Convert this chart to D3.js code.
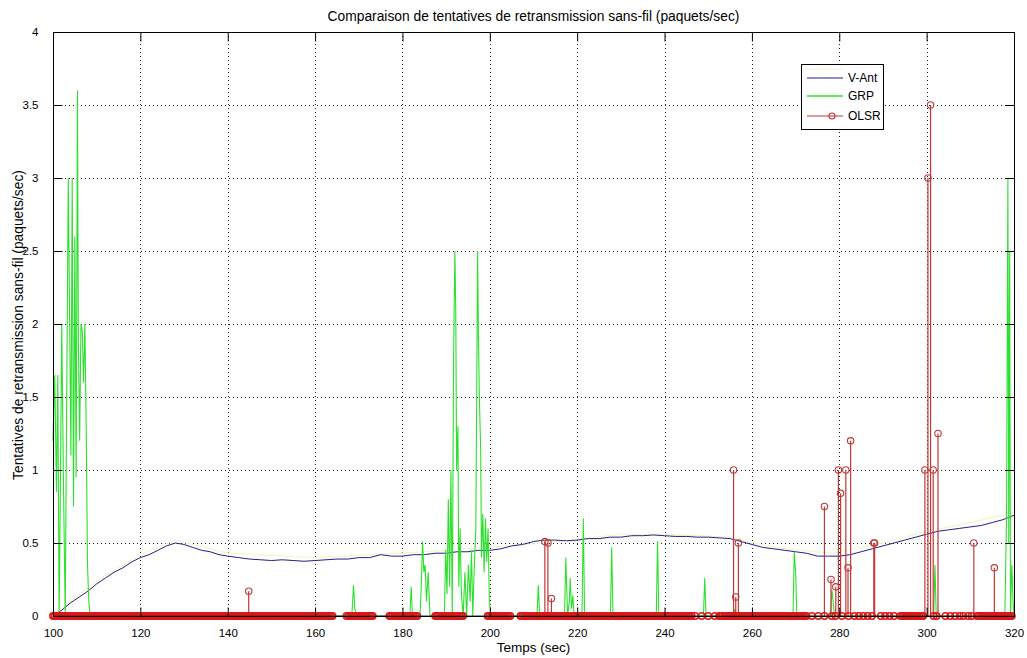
<!DOCTYPE html>
<html>
<head>
<meta charset="utf-8">
<script src="https://cdn.jsdelivr.net/npm/d3@7/dist/d3.min.js"></script>
<style>
  html, body { margin: 0; padding: 0; background: #fff; }
  svg { display: block; font-family: "Liberation Sans", Arial, Helvetica, sans-serif; }
</style>
</head>
<body>
<svg id="chart" width="1027" height="658"></svg>
<script>
// ---- Data ---------------------------------------------------------------
const xTicks = [100, 120, 140, 160, 180, 200, 220, 240, 260, 280, 300, 320];
const yTicks = [0, 0.5, 1, 1.5, 2, 2.5, 3, 3.5, 4];
const seriesNames = ["V-Ant", "GRP", "OLSR"];

// V-Ant: smoothed retransmission attempts
const vantTime = [100, 102, 104, 106, 108, 110, 112, 114, 116, 118, 120, 122, 124, 126, 128, 130, 132, 134, 136, 138, 140,
  142.5, 145, 147.5, 150, 152.5, 155, 157.5, 160, 162.5, 165, 167.5, 170, 172.5, 175, 177.5, 180, 182.5, 185, 187.5,
  190, 192.5, 195, 197.5, 200, 202.5, 205, 207.5, 210, 212.5, 215, 217.5, 220, 222.5, 225, 227.5, 230, 232.5, 235,
  237.5, 240, 242.5, 245, 247.5, 250, 252.5, 255, 257.5, 260, 262.5, 265, 267.5, 270, 272.5, 275, 277.5, 280, 282.5,
  285, 287.5, 290, 292.5, 295, 297.5, 300, 302.5, 305, 307.5, 310, 312.5, 315, 317.5, 320];
const vantValue = [0.00, 0.04, 0.09, 0.13, 0.17, 0.22, 0.26, 0.30, 0.33, 0.37, 0.40, 0.42, 0.45, 0.48, 0.50, 0.49, 0.47, 0.45, 0.44, 0.42, 0.41,
  0.40, 0.39, 0.385, 0.38, 0.385, 0.38, 0.375, 0.38, 0.385, 0.39, 0.39, 0.40, 0.40, 0.42, 0.41, 0.41, 0.42, 0.42, 0.43,
  0.43, 0.44, 0.44, 0.45, 0.45, 0.46, 0.48, 0.49, 0.51, 0.52, 0.52, 0.515, 0.52, 0.53, 0.53, 0.54, 0.54, 0.55, 0.55,
  0.555, 0.55, 0.545, 0.545, 0.54, 0.54, 0.535, 0.53, 0.51, 0.49, 0.47, 0.46, 0.45, 0.44, 0.43, 0.41, 0.41, 0.41, 0.42,
  0.44, 0.46, 0.48, 0.50, 0.52, 0.54, 0.56, 0.58, 0.59, 0.60, 0.61, 0.62, 0.64, 0.66, 0.69];

// faint companion trace drawn under V-Ant
const traceTime = [100, 110, 120, 128, 140, 160, 180, 200, 212, 230, 240, 255, 265, 278, 290, 300, 310, 320];
const traceValue = [0.01, 0.24, 0.42, 0.52, 0.43, 0.40, 0.43, 0.47, 0.50, 0.56, 0.56, 0.54, 0.47, 0.43, 0.50, 0.58, 0.64, 0.71];

// GRP: raw retransmission attempts
const grpTime = [100, 100.4, 100.8, 101.1, 101.4, 101.7, 102.0, 102.4, 102.8, 103.1, 103.5, 103.8, 104.1, 104.4, 104.7,
  105.0, 105.3, 105.6, 105.8, 106.1, 106.4, 106.7, 107.0, 107.3, 107.6, 107.9, 108.2, 108.5,
  168.4, 168.8, 169.1, 169.5,
  181.7, 182.0, 182.3,
  184.0, 184.3, 184.6, 184.9, 185.2, 185.5, 185.9, 186.3,
  189.6, 189.9, 190.2, 190.5, 190.8, 191.1, 191.4, 191.7, 192.0, 192.2, 192.4, 192.7, 192.9, 193.2, 193.5, 193.9,
  194.3, 194.7, 195.1, 195.5, 195.8, 196.1, 196.4, 196.8, 197.2, 197.4, 197.6, 197.9, 198.1, 198.4, 198.7, 199.0,
  199.3, 199.6, 199.9, 200.3,
  210.8, 211.1, 211.4,
  217.1, 217.4, 217.8, 218.2, 218.4, 218.7, 219.0, 219.3,
  221.1, 221.4, 221.7,
  227.6, 227.9, 228.2,
  238.1, 238.4, 238.7,
  248.9, 249.2, 249.5,
  255.9, 256.1, 256.3,
  269.4, 269.7, 270.0, 270.3,
  278.0, 278.3, 278.6, 278.9,
  301.6, 301.9, 302.2,
  317.9, 318.3, 318.6, 318.8, 319.0, 319.2, 319.5, 319.8, 320];
const grpValue = [1.2, 1.65, 0.85, 1.65, 0, 0.9, 2.0, 0.9, 0, 1.35, 3.0, 2.05, 1.1, 3.0, 0.75,
  2.6, 0.95, 3.6, 1.9, 1.2, 2.0, 1.95, 1.6, 2.0, 1.3, 0.35, 0.1, 0,
  0, 0.21, 0.05, 0,
  0, 0.2, 0,
  0, 0.2, 0.51, 0.3, 0.35, 0.1, 0.3, 0,
  0, 0.45, 0.15, 0.8, 0.2, 1.0, 0, 1.75, 2.5, 2.1, 1.0, 1.3, 0.2, 0.6, 0.15, 0,
  0.3, 0, 0.35, 0.1, 0.45, 0, 0.3, 0.6, 2.5, 1.9, 1.5, 1.15, 0.4, 0.7, 0.3, 0.67,
  0.37, 0.6, 0.1, 0,
  0, 0.21, 0,
  0, 0.4, 0, 0.1, 0.26, 0.05, 0.14, 0,
  0, 0.67, 0,
  0, 0.47, 0,
  0, 0.51, 0,
  0, 0.26, 0,
  0, 0.05, 0,
  0, 0.44, 0.3, 0,
  0, 0.18, 0.1, 0,
  0, 0.35, 0,
  0, 0.7, 3.0, 0.5, 2.5, 0, 0.35, 0.1, 0];

// OLSR: stems with non-zero values
const olsrTime = [144.8, 212.6, 213.3, 214.1, 255.8, 256.3, 256.9, 276.6, 278.1, 279.2, 279.8, 280.3, 281.5, 282.0,
  282.6, 287.9, 288.1, 299.6, 300.3, 300.9, 301.5, 302.6, 310.8, 315.5];
const olsrValue = [0.17, 0.51, 0.5, 0.12, 1.0, 0.13, 0.5, 0.75, 0.25, 0.2, 1.0, 0.84, 1.0, 0.33,
  1.2, 0.5, 0.5, 1.0, 3.0, 3.5, 1.0, 1.25, 0.5, 0.33];

// OLSR zero samples: recorded at a fixed interval inside these runs, plus isolated samples
const olsrSamplePeriod = 0.4;
const olsrZeroRuns = [[100, 164], [167.2, 173.2], [177, 183.5], [187.5, 194], [199.5, 204.5], [207, 246],
  [252.5, 272.5], [294, 299], [311.5, 319.5]];
const olsrZeroSingles = [247, 248.5, 250, 251.5, 273.7, 275.2, 276.6, 278.3, 279.1, 280.6, 282.1, 283.5, 284.5,
  285.5, 286.5, 287.5, 289.5, 290.5, 291.5, 292.5, 301.6, 302.3, 304.3, 305.4, 306.5, 307.6, 308.4, 309.5, 310.3];

// ---- Layout -------------------------------------------------------------
const W = 1027, H = 658;
const plot = { left: 53, right: 1014, top: 32, bottom: 616 };
const colors = { vant: "#20208c", grp: "#2ee02e", olsr: "#c03838", olsrBase: "#e41414", trace: "#f7f4c8" };

const svg = d3.select("#chart");
const x = d3.scaleLinear().domain([100, 320]).range([plot.left, plot.right]);
const y = d3.scaleLinear().domain([0, 4]).range([plot.bottom, plot.top]);

svg.append("rect").attr("width", W).attr("height", H).attr("fill", "#fff");

// grid
const grid = svg.append("g").attr("stroke", "#222").attr("stroke-width", 1).attr("stroke-dasharray", "1,3");
grid.selectAll("line.gx").data(xTicks.slice(1, -1)).join("line")
  .attr("x1", d => Math.round(x(d)) + 0.5).attr("x2", d => Math.round(x(d)) + 0.5)
  .attr("y1", plot.top).attr("y2", plot.bottom);
grid.selectAll("line.gy").data(yTicks.slice(1, -1)).join("line")
  .attr("y1", d => Math.round(y(d)) + 0.5).attr("y2", d => Math.round(y(d)) + 0.5)
  .attr("x1", plot.left).attr("x2", plot.right);

// series
const lineOf = (ts, vs) => d3.line().x((d, i) => x(ts[i])).y(d => y(d))(vs);

svg.append("path").attr("d", lineOf(traceTime, traceValue))
  .attr("fill", "none").attr("stroke", colors.trace).attr("stroke-width", 1.2);
svg.append("path").attr("d", lineOf(vantTime, vantValue))
  .attr("fill", "none").attr("stroke", colors.vant).attr("stroke-width", 1);
svg.append("path").attr("d", lineOf(grpTime, grpValue))
  .attr("fill", "none").attr("stroke", colors.grp).attr("stroke-width", 1.1);

// OLSR stems
const zeroTimes = [];
olsrZeroRuns.forEach(([a, b]) => {
  const n = Math.round((b - a) / olsrSamplePeriod);
  for (let k = 0; k <= n; k++) zeroTimes.push(a + k * olsrSamplePeriod);
});
olsrZeroSingles.forEach(t => zeroTimes.push(t));

const olsr = svg.append("g");
olsr.selectAll("line").data(olsrTime).join("line")
  .attr("x1", d => x(d)).attr("x2", d => x(d))
  .attr("y1", y(0)).attr("y2", (d, i) => y(olsrValue[i]))
  .attr("stroke", colors.olsr).attr("stroke-width", 1.2);
// stem baseline
svg.append("line").attr("x1", plot.left).attr("x2", plot.right)
  .attr("y1", y(0)).attr("y2", y(0)).attr("stroke", "#333").attr("stroke-width", 1);
olsr.selectAll("circle.z").data(zeroTimes).join("circle")
  .attr("cx", d => x(d)).attr("cy", y(0)).attr("r", 3.2)
  .attr("fill", "none").attr("stroke", colors.olsrBase).attr("stroke-width", 1.5);
olsr.selectAll("circle.v").data(olsrTime).join("circle")
  .attr("cx", d => x(d)).attr("cy", (d, i) => y(olsrValue[i])).attr("r", 3.2)
  .attr("fill", "none").attr("stroke", colors.olsr).attr("stroke-width", 1.1);

// axes box and inward ticks on all sides
const tickLen = 9;
const axes = svg.append("g").attr("font-size", 11).attr("fill", "#000");
axes.append("rect").attr("x", plot.left + 0.5).attr("y", plot.top + 0.5)
  .attr("width", plot.right - plot.left).attr("height", plot.bottom - plot.top)
  .attr("fill", "none").attr("stroke", "#000");

const xAxisBottom = d3.axisBottom(x).tickValues(xTicks).tickSize(-tickLen).tickPadding(tickLen + 3).tickFormat(d3.format("d"));
const xAxisTop = d3.axisTop(x).tickValues(xTicks).tickSize(-tickLen).tickFormat("");
const yAxisLeft = d3.axisLeft(y).tickValues(yTicks).tickSize(-tickLen).tickPadding(tickLen + 6).tickFormat(d => String(d));
const yAxisRight = d3.axisRight(y).tickValues(yTicks).tickSize(-tickLen).tickFormat("");

function styleAxis(g) {
  g.select(".domain").remove();
  g.selectAll("line").attr("stroke", "#000");
  g.selectAll("text").attr("fill", "#000").attr("font-size", 11.5)
    .attr("font-family", "'Liberation Sans', Arial, sans-serif");
}
axes.append("g").attr("transform", `translate(0,${plot.bottom + 0.5})`).call(xAxisBottom).call(styleAxis);
axes.append("g").attr("transform", `translate(0,${plot.top + 0.5})`).call(xAxisTop).call(styleAxis);
axes.append("g").attr("transform", `translate(${plot.left + 0.5},0)`).call(yAxisLeft).call(styleAxis);
axes.append("g").attr("transform", `translate(${plot.right + 0.5},0)`).call(yAxisRight).call(styleAxis);

// titles
svg.append("text").attr("x", (plot.left + plot.right) / 2).attr("y", 21)
  .attr("text-anchor", "middle").attr("font-size", 13.8)
  .text("Comparaison de tentatives de retransmission sans-fil (paquets/sec)");
svg.append("text").attr("x", (plot.left + plot.right) / 2).attr("y", 652)
  .attr("text-anchor", "middle").attr("font-size", 13.5).text("Temps (sec)");
svg.append("text").attr("transform", `translate(23,${(plot.top + plot.bottom) / 2 + 1}) rotate(-90)`)
  .attr("text-anchor", "middle").attr("font-size", 13.8)
  .text("Tentatives de retransmission sans-fil (paquets/sec)");

// legend
const lg = svg.append("g").attr("transform", "translate(801,64)");
lg.append("rect").attr("x", 0.5).attr("y", 0.5).attr("width", 82).attr("height", 65)
  .attr("fill", "#fff").attr("stroke", "#000");
lg.append("line").attr("x1", 6).attr("x2", 42).attr("y1", 5).attr("y2", 5)
  .attr("stroke", colors.trace).attr("stroke-width", 1.2);
const legendColors = [colors.vant, colors.grp, colors.olsr];
const legendY = [14, 32, 52];
seriesNames.forEach((name, i) => {
  lg.append("line").attr("x1", 6).attr("x2", 42).attr("y1", legendY[i]).attr("y2", legendY[i])
    .attr("stroke", legendColors[i]).attr("stroke-width", i === 1 ? 1.4 : 1.1);
  if (name === "OLSR") {
    lg.append("circle").attr("cx", 31).attr("cy", legendY[i]).attr("r", 3)
      .attr("fill", "none").attr("stroke", legendColors[i]).attr("stroke-width", 1.1);
  }
  lg.append("text").attr("x", 47).attr("y", legendY[i] + 4).attr("font-size", 12).text(name);
});
</script>
</body>
</html>
